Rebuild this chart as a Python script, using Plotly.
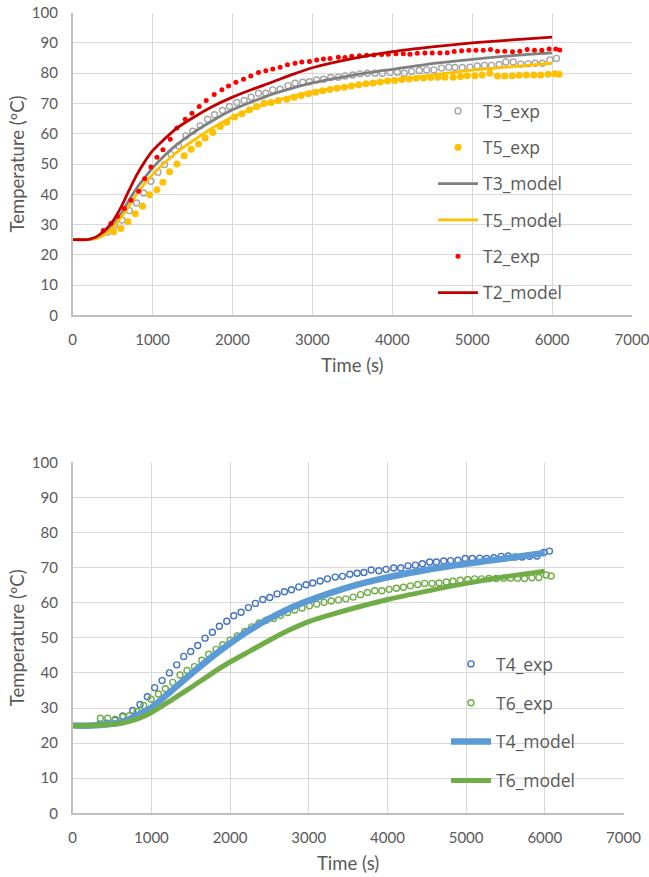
import plotly.graph_objects as go

# ---------------- data: top chart ----------------
t2_exp_t = [383, 479, 562, 646, 729, 825, 900, 979, 1054, 1129, 1221, 1304, 1408, 1492, 1583, 1671, 1771, 1867, 1950, 2042,
            2138, 2229, 2325, 2417, 2504, 2596, 2688, 2783, 2867, 2963, 3054, 3138, 3221, 3325, 3408, 3492, 3588, 3679, 3771, 3867,
            3950, 4046, 4138, 4221, 4313, 4408, 4500, 4596, 4688, 4775, 4867, 4958, 5046, 5138, 5229, 5317, 5408, 5504, 5596, 5688,
            5779, 5871, 5963, 6046, 6096]
t2_exp_v = [28.0, 30.3, 32.7, 35.3, 38.0, 41.0, 45.1, 49.0, 52.2, 54.7, 58.2, 61.9, 64.8, 66.8, 69.0, 71.0, 73.0, 74.5, 75.8, 77.0,
            78.0, 79.1, 80.2, 80.8, 81.4, 82.0, 82.8, 83.3, 83.7, 83.9, 84.4, 84.7, 84.9, 85.3, 85.2, 85.6, 85.8, 85.9, 86.0, 86.2,
            86.3, 86.4, 86.4, 86.3, 86.6, 86.7, 86.7, 86.7, 86.8, 87.2, 87.4, 87.6, 87.6, 87.6, 87.8, 87.3, 87.3, 87.1, 87.3, 87.8,
            87.6, 87.6, 88.0, 88.0, 87.7]

t3_exp_t = [438, 525, 617, 708, 800, 888, 979, 1067, 1150, 1233, 1325, 1417, 1504, 1596, 1688, 1775, 1875, 1963, 2054,
            2146, 2233, 2325, 2417, 2504, 2596, 2695, 2783, 2879, 2963, 3054, 3138, 3229, 3325, 3408, 3504, 3596, 3688, 3783, 3875,
            3971, 4063, 4150, 4242, 4338, 4429, 4521, 4617, 4708, 4783, 4875, 4971, 5063, 5154, 5242, 5338, 5421, 5513, 5608, 5700,
            5788, 5879, 5971, 6054]
t3_exp_v = [27.5, 29.8, 31.5, 34.6, 37.1, 40.4, 44.3, 47.3, 49.8, 53.1, 56.0, 59.3, 60.8, 62.6, 64.8, 66.3, 67.7, 69.0, 70.3,
            71.0, 72.1, 73.4, 73.4, 74.5, 74.7, 75.9, 76.7, 77.0, 77.2, 77.8, 78.0, 78.6, 78.7, 79.1, 79.4, 79.8, 80.0, 80.0, 80.0,
            80.2, 80.3, 80.0, 80.6, 80.9, 81.1, 81.1, 81.7, 82.0, 81.9, 81.9, 82.0, 82.4, 82.6, 82.6, 82.9, 83.7, 83.7, 83.0, 83.1,
            83.3, 83.3, 84.4, 84.9]

t5_exp_t = [512, 604, 692, 783, 875, 963, 1054, 1129, 1212, 1304, 1396, 1483, 1575, 1658, 1754, 1846, 1929, 2025, 2117, 2213,
            2304, 2396, 2483, 2575, 2679, 2770, 2860, 2950, 3040, 3130, 3220, 3310, 3400, 3490, 3580, 3670, 3760, 3850, 3940, 4030,
            4120, 4210, 4300, 4390, 4480, 4570, 4660, 4763, 4854, 4938, 5033, 5125, 5221, 5317, 5408, 5500, 5588, 5679, 5771, 5858,
            5950, 6033, 6088]
t5_exp_v = [27.6, 28.7, 30.9, 33.6, 36.0, 39.8, 41.5, 44.0, 47.4, 50.0, 52.7, 54.9, 56.6, 58.6, 60.4, 62.4, 63.8, 65.5, 66.6, 67.9,
            69.0, 70.1, 70.3, 71.0, 71.4, 72.1, 72.6, 73.2, 73.7, 74.2, 74.6, 75.0, 75.4, 75.8, 76.2, 76.5, 76.8, 77.1, 77.4, 77.6,
            77.9, 78.1, 78.3, 78.4, 78.6, 78.7, 78.7, 78.7, 78.9, 79.2, 79.2, 79.4, 80.0, 79.1, 79.1, 79.2, 79.3, 79.4, 79.4, 79.4,
            79.7, 79.8, 79.7]

model_top_t = [0, 200, 300, 400, 500, 600, 700, 800, 900, 1000, 1150, 1300, 1500, 1750, 2000, 2250, 2500, 2750, 3000, 3500,
               4000, 4500, 5000, 5500, 6000]
t2_model = [25.0, 25.1, 26.0, 28.0, 31.0, 35.5, 41.0, 46.3, 50.7, 54.4, 58.3, 61.8, 65.2, 69.0, 72.1, 74.7, 77.1, 79.6, 81.8, 84.8,
            87.1, 88.7, 90.0, 91.0, 91.9]
t3_model = [25.0, 25.1, 25.6, 26.9, 29.5, 33.3, 37.8, 42.0, 45.4, 48.7, 52.8, 56.3, 60.2, 64.3, 67.9, 70.6, 73.1, 75.1, 76.8, 79.3,
            81.3, 83.2, 84.6, 85.8, 86.7]
t5_model = [25.0, 25.1, 25.5, 26.6, 28.9, 32.2, 35.9, 40.0, 43.5, 46.5, 50.4, 53.8, 57.6, 61.9, 65.5, 68.2, 70.5, 72.4, 73.9, 75.9,
            77.7, 79.4, 81.0, 82.2, 83.3]

# ---------------- data: bottom chart ----------------
t4_exp_t = [339, 432, 538, 636, 763, 856, 949, 1042, 1136, 1229, 1322, 1411, 1500, 1589, 1682, 1775, 1864, 1958, 2047, 2140,
            2233, 2322, 2415, 2504, 2597, 2691, 2780, 2873, 2966, 3051, 3144, 3237, 3336, 3429, 3522, 3615, 3700, 3793, 3890, 3983,
            4080, 4169, 4262, 4355, 4444, 4537, 4622, 4715, 4803, 4896, 4989, 5078, 5171, 5260, 5353, 5446, 5535, 5624, 5713, 5806,
            5899, 5987, 6059]
t4_exp_v = [25.3, 25.7, 26.5, 27.7, 29.3, 31.0, 33.2, 35.8, 37.8, 40.0, 42.3, 44.7, 46.1, 47.8, 49.9, 51.6, 53.3, 54.7, 56.3, 57.3,
            58.6, 59.8, 60.9, 61.5, 62.5, 63.1, 63.7, 64.5, 65.1, 65.6, 66.2, 66.8, 67.3, 67.5, 68.1, 68.4, 68.6, 69.3, 69.1, 69.5,
            69.9, 69.9, 70.5, 70.7, 71.1, 71.6, 71.6, 71.9, 72.0, 72.1, 72.6, 72.6, 72.7, 72.6, 72.8, 73.2, 73.3, 73.0, 73.0, 73.2,
            73.3, 74.3, 74.7]

t6_exp_t = [352, 445, 542, 636, 720, 818, 903, 996, 1089, 1178, 1271, 1364, 1453, 1547, 1640, 1729, 1822, 1907, 2000, 2093,
            2186, 2275, 2369, 2458, 2551, 2640, 2733, 2822, 2915, 3008, 3102, 3195, 3285, 3378, 3471, 3565, 3658, 3746, 3839, 3928,
            4021, 4114, 4203, 4292, 4385, 4474, 4567, 4656, 4749, 4833, 4926, 5019, 5108, 5197, 5290, 5383, 5476, 5564, 5653, 5742,
            5835, 5924, 6017, 6080]
t6_exp_v = [27.1, 27.1, 26.8, 27.5, 27.8, 29.0, 30.7, 32.5, 34.0, 35.5, 37.3, 39.4, 40.7, 41.8, 43.6, 45.3, 46.7, 48.0, 49.3, 50.5,
            51.8, 53.1, 54.2, 55.0, 55.5, 56.4, 57.2, 57.9, 58.5, 59.1, 59.6, 60.1, 60.5, 60.8, 61.1, 61.6, 62.3, 62.9, 63.4, 63.4,
            63.8, 64.1, 64.4, 64.8, 65.2, 65.5, 65.5, 65.6, 65.9, 66.1, 66.4, 66.6, 66.8, 66.8, 66.9, 66.9, 67.0, 67.0, 67.0, 66.9,
            67.1, 67.2, 67.9, 67.6]

model_bot_t = [0, 250, 500, 650, 850, 1000, 1250, 1500, 1750, 2000, 2250, 2500, 2750, 3000, 3250, 3500, 4000, 4500, 5000, 5500, 6000]
t4_model = [25.0, 25.0, 25.5, 26.2, 28.3, 30.1, 34.8, 39.6, 44.2, 48.4, 52.2, 55.5, 58.3, 60.6, 62.6, 64.4, 67.2, 69.4, 71.1, 72.6, 74.2]
t6_model = [25.0, 25.0, 25.3, 25.8, 27.1, 28.7, 32.2, 35.8, 39.6, 43.1, 46.2, 49.3, 52.2, 54.6, 56.4, 58.0, 60.9, 63.3, 65.5, 67.4, 69.0]

x_ticks = [0, 1000, 2000, 3000, 4000, 5000, 6000, 7000]
y_ticks = [0, 10, 20, 30, 40, 50, 60, 70, 80, 90, 100]

# ---------------- figure ----------------
W, H = 649, 877
TXT = "#595959"
GRID = "#D9D9D9"
TICKFONT = dict(family="Lato", size=15, color=TXT)
TITLEFONT = dict(family="Lato", size=18.5, color=TXT)
LEGFONT = dict(family="Open Sans", size=17.5, color=TXT)

fig = go.Figure()

def exp_trace(x, y, name, color, size, open_, ax, legend, group):
    if open_:
        marker = dict(symbol="circle-open", size=size, color=color, line=dict(width=1.4, color=color))
    else:
        marker = dict(symbol="circle", size=size, color=color, line=dict(width=0))
    return go.Scatter(x=x, y=y, name=name, mode="markers", marker=marker,
                      xaxis="x" + ax, yaxis="y" + ax, legend=legend, legendgroup=group)

def model_trace(x, y, name, color, width, ax, legend, group):
    return go.Scatter(x=x, y=y, name=name, mode="lines", line=dict(color=color, width=width, shape="spline", smoothing=0.8),
                      xaxis="x" + ax, yaxis="y" + ax, legend=legend, legendgroup=group)

# top chart
fig.add_trace(exp_trace(t3_exp_t, t3_exp_v, "T3_exp", "#A5A5A5", 6, True, "", "legend", "a1"))
fig.add_trace(exp_trace(t5_exp_t, t5_exp_v, "T5_exp", "#FFC000", 7, False, "", "legend", "a2"))
fig.add_trace(model_trace(model_top_t, t3_model, "T3_model", "#808080", 2.8, "", "legend", "a3"))
fig.add_trace(model_trace(model_top_t, t5_model, "T5_model", "#FFC000", 2.8, "", "legend", "a4"))
fig.add_trace(exp_trace(t2_exp_t, t2_exp_v, "T2_exp", "#FF0000", 5, False, "", "legend", "a5"))
fig.add_trace(model_trace(model_top_t, t2_model, "T2_model", "#C00000", 2.8, "", "legend", "a6"))

# bottom chart
fig.add_trace(exp_trace(t4_exp_t, t4_exp_v, "T4_exp", "#4472C4", 6, True, "2", "legend2", "b1"))
fig.add_trace(exp_trace(t6_exp_t, t6_exp_v, "T6_exp", "#70AD47", 6, True, "2", "legend2", "b2"))
fig.add_trace(model_trace(model_bot_t, t4_model, "T4_model", "#5B9BD5", 6.5, "2", "legend2", "b3"))
fig.add_trace(model_trace(model_bot_t, t6_model, "T6_model", "#70AD47", 5, "2", "legend2", "b4"))

def xax(domain, anchor):
    return dict(domain=domain, anchor=anchor, range=[0, 7000], tickvals=x_ticks, showgrid=True, gridcolor=GRID, gridwidth=1,
                zeroline=False, showline=True, linecolor="#BFBFBF", linewidth=1.5, ticks="", tickfont=TICKFONT,
                automargin=False, ticklabelstandoff=10, ticklabeloverflow="allow",
                title=dict(text="Time (s)", font=TITLEFONT, standoff=12))

def yax(domain, anchor):
    return dict(domain=domain, anchor=anchor, range=[0, 100], tickvals=y_ticks, showgrid=True, gridcolor=GRID, gridwidth=1,
                zeroline=False, showline=True, linecolor="#BFBFBF", linewidth=1.5, ticks="", tickfont=TICKFONT,
                automargin=False, ticklabelstandoff=10, ticklabeloverflow="allow",
                title=dict(text="Temperature (ºC)", font=TITLEFONT, standoff=2))

fig.update_layout(
    width=W, height=H,
    margin=dict(l=0, r=0, t=0, b=0, autoexpand=False),
    paper_bgcolor="white", plot_bgcolor="white",
    xaxis=xax([72.7 / W, 632.0 / W], "y"),
    yaxis=yax([1 - 315.3 / H, 1 - 12.7 / H], "x"),
    xaxis2=xax([72.7 / W, 623.5 / W], "y2"),
    yaxis2=yax([1 - 813.3 / H, 1 - 462.3 / H], "x2"),
    legend=dict(x=433 / W, y=1 - 93 / H, xanchor="left", yanchor="top", bgcolor="rgba(0,0,0,0)",
                font=LEGFONT, traceorder="grouped", tracegroupgap=10.6, itemwidth=40),
    legend2=dict(x=446 / W, y=1 - 646 / H, xanchor="left", yanchor="top", bgcolor="rgba(0,0,0,0)",
                 font=LEGFONT, traceorder="grouped", tracegroupgap=13.1, itemwidth=40),
    showlegend=True,
)

fig.write_html("out.html")
